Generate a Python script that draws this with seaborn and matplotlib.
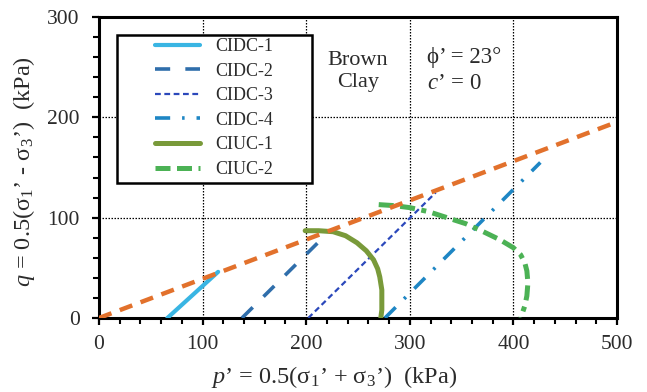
import numpy as np
import pandas as pd
import seaborn as sns
import matplotlib
matplotlib.use("Agg")
import matplotlib.pyplot as plt
from matplotlib.patches import Rectangle
from matplotlib.ticker import MultipleLocator

# ---------------- data ----------------
fail_p = [0, 500]
fail_q = [0, 195.4]

cidc1_p = [66, 115]
cidc1_q = [0, 46]

cidc2_p = [138, 221]
cidc2_q = [0, 85]

cidc3_p = [202, 325]
cidc3_q = [0, 125]

cidc4_p = [276, 426]
cidc4_q = [0, 155]

ciuc1_p = [272, 273, 273, 273, 271, 269, 265, 258, 249, 238, 226, 212, 199]
ciuc1_q = [0, 8, 18, 28, 41, 49, 58, 67, 75, 82, 86, 87, 87]

ciuc2_p = [270, 285, 300, 318, 336, 354, 371, 387, 400, 407, 411, 413, 414, 413, 411, 407]
ciuc2_q = [113, 112, 110, 106, 100, 94, 86, 78, 70, 63, 55, 47, 35, 22, 12, 0]

x_ticks = [0, 100, 200, 300, 400, 500]
y_ticks = [0, 100, 200, 300]

labels = ["CIDC-1", "CIDC-2", "CIDC-3", "CIDC-4", "CIUC-1", "CIUC-2"]

# ---------------- style ----------------
sns.set_theme(style="white")
plt.rcParams['font.family'] = ['Liberation Serif', 'DejaVu Serif']
plt.rcParams['mathtext.fontset'] = 'custom'
plt.rcParams['mathtext.rm'] = 'Liberation Serif'
plt.rcParams['mathtext.it'] = 'Liberation Serif:italic'
plt.rcParams['mathtext.bf'] = 'Liberation Serif:bold'

TXT = "#2b2b2b"

fig = plt.figure(figsize=(6.47, 3.92), dpi=100)
ax = fig.add_axes([99/647, 1-318/392, (617-99)/647, (318-17)/392])

def draw(p, q, color, lw, dashes, label=None, z=3):
    df = pd.DataFrame({"p": p, "q": q})
    sns.lineplot(data=df, x="p", y="q", sort=False, estimator=None, ax=ax,
                 color=color, linewidth=lw, label=label, zorder=z)
    line = ax.get_lines()[-1]
    if dashes is not None:
        line.set_dashes(dashes)
    return line

h_fail = draw(fail_p, fail_q, "#e2712c", 3.2, (3.0, 2.0), None, 4)
h1 = draw(cidc1_p, cidc1_q, "#39b5e3", 3.0, None, labels[0])
h2 = draw(cidc2_p, cidc2_q, "#2f6eab", 2.6, (4.2, 4.2), labels[1])
h3 = draw(cidc3_p, cidc3_q, "#2b48bb", 1.6, (2.6, 1.6), labels[2])
h4 = draw(cidc4_p, cidc4_q, "#1e86c4", 2.6, (4.2, 3.3, 0.7, 3.3), labels[3])
h5 = draw(ciuc1_p, ciuc1_q, "#799a3a", 3.6, None, labels[4])
h6 = draw(ciuc2_p, ciuc2_q, "#4cb255", 3.6, (3.0, 1.3, 3.0, 1.3, 1.0, 1.3), labels[5])

ax.set_xlim(0, 500)
ax.set_ylim(0, 300)
ax.set_xticks(x_ticks)
ax.set_yticks(y_ticks)
ax.xaxis.set_minor_locator(MultipleLocator(20))
ax.yaxis.set_minor_locator(MultipleLocator(20))
ax.tick_params(which='major', direction='out', length=5, width=1.6, color='black',
               labelsize=15.5, labelcolor=TXT, bottom=True, left=True)
ax.tick_params(axis='y', which='major', pad=9)
ax.tick_params(axis='x', which='major', pad=7)
ax.tick_params(which='minor', direction='out', length=4, width=1.5, color='black',
               bottom=True, left=True)

ax.grid(True, which='major', color='black', linestyle=(0, (1.2, 1.2)), linewidth=0.9)
ax.set_axisbelow(True)
for s in ax.spines.values():
    s.set_visible(True)
    s.set_color('black')
    s.set_linewidth(2.2)

ax.set_xlabel(r"$\mathit{p}$’ = 0.5(σ$_1$’ + σ$_3$’)  (kPa)", fontsize=17.5, color=TXT)
ax.set_ylabel(r"$\mathit{q}$ = 0.5(σ$_1$’ - σ$_3$’)  (kPa)", fontsize=17.5, color=TXT)
ax.xaxis.set_label_coords(0.454, -0.152)
ax.yaxis.set_label_coords(-0.12, 0.488)

# legend
leg = ax.legend(handles=[h1, h2, h3, h4, h5, h6], labels=labels, frameon=False,
                loc='upper left', bbox_to_anchor=((155-99)/518, (318-38)/301),
                borderpad=0, borderaxespad=0, fontsize=13, handlelength=2.5,
                handletextpad=0.85, labelspacing=0.42)
for t in leg.get_texts():
    t.set_color(TXT)
leg.set_zorder(6)
ax.add_patch(Rectangle(((117-99)/518, (318-183)/301), (312-117)/518, (183-35)/301,
                       transform=ax.transAxes, facecolor='white', edgecolor='black',
                       linewidth=1.8, zorder=5))

# annotations
ax.text(250, 246, "Brown\nClay", ha='center', va='center', fontsize=16,
        color=TXT, linespacing=1.2, zorder=6)
ax.text(317, 260, "ϕ’ = 23°", ha='left', va='center', fontsize=16.5, color=TXT, zorder=6,
        family=['Liberation Serif', 'DejaVu Serif'])
ax.text(317, 234, r"$\mathit{c}$’ = 0", ha='left', va='center', fontsize=16.5, color=TXT, zorder=6)

fig.savefig("out.png", dpi=100)
